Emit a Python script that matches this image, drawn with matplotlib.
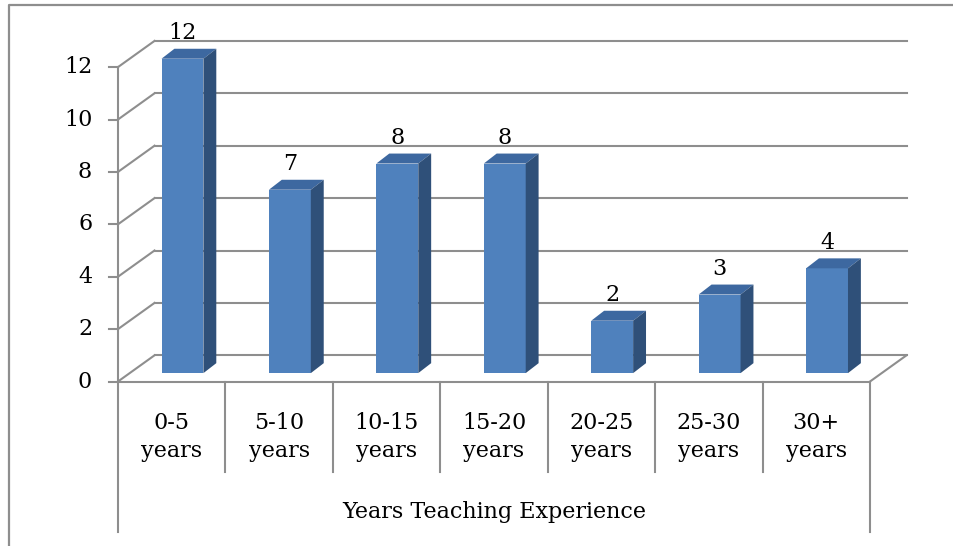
import matplotlib
matplotlib.use("Agg")
import matplotlib.pyplot as plt
from matplotlib.patches import Polygon, Rectangle
from matplotlib.lines import Line2D

categories = ["0-5\nyears", "5-10\nyears", "10-15\nyears", "15-20\nyears",
              "20-25\nyears", "25-30\nyears", "30+\nyears"]
counts = [12, 7, 8, 8, 2, 3, 4]
y_ticks = [0, 2, 4, 6, 8, 10, 12]
x_title = "Years Teaching Experience"

# fake 3d geometry (category units / value units)
DX, DY = 0.34, 1.0          # full depth of the back wall
BX, BY = 0.10, 0.32         # bar front sits a bit inside the floor
BDX, BDY = 0.12, 0.38       # bar depth
HALF_W = 0.195
GRID = "#8e8e8e"
FRONT, TOP, SIDE = "#4f81bd", "#3d68a0", "#2f5079"
FS = 16

plt.rcParams["font.family"] = ["DejaVu Serif"]

fig = plt.figure(figsize=(9.54, 5.46), dpi=100)
ax = fig.add_axes([0, 0, 1, 1])
ax.set_xlim(-118 / 107.43, (954 - 118) / 107.43)
ax.set_ylim(-(546 - 381.5) / 26.2, 381.5 / 26.2)
ax.axis("off")

n = len(counts)
lw = 1.5

# outer frame (cut at right and bottom)
fig.add_artist(Line2D([9 / 954, 9 / 954, 1], [0, 1 - 5 / 546, 1 - 5 / 546],
                      color=GRID, lw=1.6, transform=fig.transFigure))

# back wall gridlines + side diagonals
for t in y_ticks:
    ax.plot([0, DX], [t, t + DY], color=GRID, lw=lw, zorder=1)
    ax.plot([DX, n + DX], [t + DY, t + DY], color=GRID, lw=lw, zorder=1)
    ax.plot([-0.084, 0], [t, t], color=GRID, lw=lw, zorder=1)
    ax.text(-0.24, t, str(t), ha="right", va="center", fontsize=FS)

# floor
ax.plot([0, n], [0, 0], color=GRID, lw=lw, zorder=1)
ax.plot([n, n + DX], [0, DY], color=GRID, lw=lw, zorder=1)

# front axis and category table lines
ax.plot([0, 0], [y_ticks[-1], -5.74], color=GRID, lw=lw, zorder=1)
ax.plot([n, n], [0, -5.74], color=GRID, lw=lw, zorder=1)
for i in range(1, n):
    ax.plot([i, i], [0, -3.45], color=GRID, lw=lw, zorder=1)

for i, (lab, v) in enumerate(zip(categories, counts)):
    left = i + 0.5 - HALF_W + BX
    right = i + 0.5 + HALF_W + BX
    ax.add_patch(Rectangle((left, BY), right - left, v, facecolor=FRONT,
                           edgecolor="none", zorder=3))
    ax.add_patch(Polygon([(left, BY + v), (right, BY + v),
                          (right + BDX, BY + v + BDY), (left + BDX, BY + v + BDY)],
                         closed=True, facecolor=TOP, edgecolor="none", zorder=3))
    ax.add_patch(Polygon([(right, BY), (right + BDX, BY + BDY),
                          (right + BDX, BY + v + BDY), (right, BY + v)],
                         closed=True, facecolor=SIDE, edgecolor="none", zorder=3))
    ax.text(i + 0.5 + BX, BY + v + BDY + 0.6, str(v), ha="center", va="center",
            fontsize=FS, zorder=4)
    ax.text(i + 0.5, -2.12, lab, ha="center", va="center", fontsize=FS,
            linespacing=1.3)

ax.text(n / 2, -4.98, x_title, ha="center", va="center", fontsize=FS)

fig.savefig("out.png", dpi=100)
